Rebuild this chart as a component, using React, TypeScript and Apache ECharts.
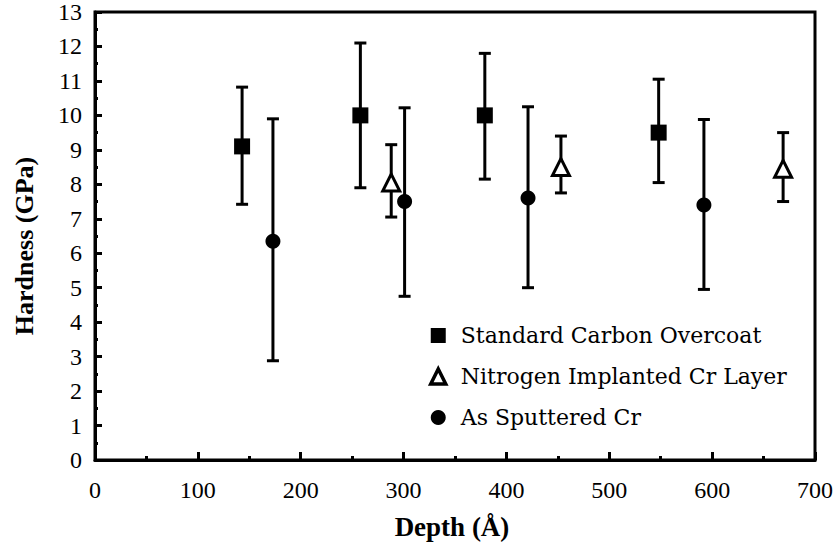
import React, { useEffect, useRef } from "react";
import * as echarts from "echarts";

const carbonX = [143, 258, 379, 548];
const carbonY = [9.1, 10.0, 10.0, 9.5];
const carbonLow = [7.42, 7.9, 8.15, 8.05];
const carbonHigh = [10.82, 12.1, 11.8, 11.05];

const nitrogenX = [288, 453, 669];
const nitrogenY = [8.05, 8.5, 8.45];
const nitrogenLow = [7.05, 7.75, 7.5];
const nitrogenHigh = [9.15, 9.4, 9.5];

const sputteredX = [173, 301, 421, 592];
const sputteredY = [6.35, 7.5, 7.6, 7.4];
const sputteredLow = [2.88, 4.75, 5.0, 4.95];
const sputteredHigh = [9.9, 10.22, 10.25, 9.88];

const seriesNames = [
  "Standard Carbon Overcoat",
  "Nitrogen Implanted Cr Layer",
  "As Sputtered Cr",
];

const xTitle = "Depth (Å)";
const yTitle = "Hardness (GPa)";

const FONT = "Liberation Serif";
const LEGEND_FONT = "DejaVu Serif";

function errorData(xs: number[], lows: number[], highs: number[]) {
  return xs.map((x, i) => [x, lows[i], highs[i]]);
}

function pointData(xs: number[], ys: number[]) {
  return xs.map((x, i) => [x, ys[i]]);
}

function errorSeries(data: number[][]) {
  return {
    type: "custom",
    silent: true,
    z: 2,
    data,
    encode: { x: 0, y: [1, 2] },
    renderItem: (params: any, api: any) => {
      const x = api.value(0);
      const lo = api.coord([x, api.value(1)]);
      const hi = api.coord([x, api.value(2)]);
      const half = 6;
      const style = { stroke: "#000", lineWidth: 3 };
      return {
        type: "group",
        children: [
          { type: "line", shape: { x1: lo[0], y1: lo[1], x2: hi[0], y2: hi[1] }, style },
          { type: "line", shape: { x1: lo[0] - half, y1: lo[1], x2: lo[0] + half, y2: lo[1] }, style },
          { type: "line", shape: { x1: hi[0] - half, y1: hi[1], x2: hi[0] + half, y2: hi[1] }, style },
        ],
      };
    },
  };
}

export default function App() {
  const ref = useRef<HTMLDivElement>(null);

  useEffect(() => {
    if (!ref.current) return;
    const chart = echarts.init(ref.current, undefined, { renderer: "svg" });
    const option: any = {
      animation: false,
      backgroundColor: "#fff",
      textStyle: { color: "#000000" },
      grid: {
        left: 95,
        right: 22,
        top: 12,
        bottom: 86,
        show: true,
        borderColor: "#000",
        borderWidth: 3,
        backgroundColor: "transparent",
      },
      graphic: [
        {
          type: "text",
          x: 24,
          y: 246,
          rotation: Math.PI / 2,
          style: {
            text: yTitle,
            fontFamily: FONT,
            fontSize: 26,
            fontWeight: "bold",
            fill: "#000000",
            align: "center",
            verticalAlign: "middle",
          },
        },
        {
          type: "text",
          x: 452,
          y: 527,
          style: {
            text: xTitle,
            fontFamily: FONT,
            fontSize: 27,
            fontWeight: "bold",
            fill: "#000000",
            align: "center",
            verticalAlign: "middle",
          },
        },
      ],
      legend: {
        orient: "vertical",
        left: 424,
        top: 319,
        itemGap: 18,
        itemWidth: 15,
        itemHeight: 15,
        selectedMode: false,
        textStyle: {
          fontFamily: LEGEND_FONT,
          fontSize: 22,
          lineHeight: 23,
          color: "#000000",
          padding: [0, 0, 0, 10],
        },
        data: [
          { name: seriesNames[0], icon: "rect", itemStyle: { color: "#000", borderWidth: 0 } },
          {
            name: seriesNames[1],
            icon: "triangle",
            itemStyle: { color: "#fff", borderColor: "#000", borderWidth: 3.5 },
          },
          { name: seriesNames[2], icon: "circle", itemStyle: { color: "#000", borderWidth: 0 } },
        ],
      },
      xAxis: {
        type: "value",
        min: 0,
        max: 700,
        interval: 100,
        axisLine: { show: true, lineStyle: { color: "#000", width: 3 } },
        axisTick: { show: true, inside: true, length: 8, lineStyle: { color: "#000", width: 3 } },
        minorTick: { show: true, splitNumber: 2, length: 4, lineStyle: { color: "#000", width: 3 } },
        axisLabel: { fontFamily: FONT, fontSize: 24, color: "#000000", margin: 18 },
        splitLine: { show: false },
      },
      yAxis: {
        type: "value",
        min: 0,
        max: 13,
        interval: 1,
        axisLine: { show: true, lineStyle: { color: "#000", width: 3 } },
        axisTick: { show: true, inside: true, length: 7, lineStyle: { color: "#000", width: 3 } },
        minorTick: { show: true, splitNumber: 2, length: 3, lineStyle: { color: "#000", width: 3 } },
        axisLabel: { fontFamily: FONT, fontSize: 24, color: "#000000", margin: 13 },
        splitLine: { show: false },
      },
      series: [
        errorSeries(errorData(carbonX, carbonLow, carbonHigh)),
        errorSeries(errorData(nitrogenX, nitrogenLow, nitrogenHigh)),
        errorSeries(errorData(sputteredX, sputteredLow, sputteredHigh)),
        {
          name: seriesNames[0],
          type: "scatter",
          z: 5,
          symbol: "rect",
          symbolSize: 16,
          itemStyle: { color: "#000", opacity: 1 },
          data: pointData(carbonX, carbonY),
        },
        {
          name: seriesNames[1],
          type: "scatter",
          z: 5,
          symbol: "triangle",
          symbolSize: [17, 17],
          itemStyle: { color: "#fff", borderColor: "#000", borderWidth: 3, opacity: 1 },
          data: pointData(nitrogenX, nitrogenY),
        },
        {
          name: seriesNames[2],
          type: "scatter",
          z: 5,
          symbol: "circle",
          symbolSize: 15,
          itemStyle: { color: "#000", opacity: 1 },
          data: pointData(sputteredX, sputteredY),
        },
      ],
    };
    chart.setOption(option);
    return () => chart.dispose();
  }, []);

  return (
    <div
      ref={ref}
      style={{ position: "fixed", left: 0, top: 0, width: 837, height: 546, background: "#fff" }}
    />
  );
}
